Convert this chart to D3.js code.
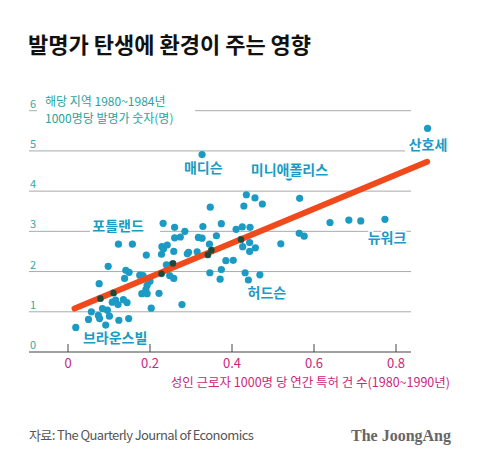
<!DOCTYPE html>
<html><head><meta charset="utf-8">
<script src="https://cdn.jsdelivr.net/npm/d3@7"></script>
<style>body{margin:0;background:#fff}svg{display:block;font-family:"Noto Sans CJK KR","Noto Sans",sans-serif}</style>
</head><body><svg id="c"></svg>
<script>
const xTicks = [0, 0.2, 0.4, 0.6, 0.8];
const yTicks = [0, 1, 2, 3, 4, 5, 6];
const px = [0.877,0.327,0.539,0.435,0.456,0.474,0.565,0.429,0.347,0.639,0.685,0.714,0.773,0.232,0.26,0.329,0.374,0.285,0.41,0.425,0.444,0.564,0.576,0.318,0.327,0.362,0.26,0.274,0.422,0.123,0.157,0.229,0.242,0.233,0.258,0.191,0.228,0.291,0.294,0.315,0.345,0.35,0.341,0.443,0.426,0.457,0.443,0.519,0.385,0.403,0.098,0.24,0.25,0.256,0.141,0.149,0.138,0.175,0.183,0.228,0.248,0.258,0.346,0.374,0.371,0.432,0.468,0.44,0.076,0.2,0.193,0.19,0.18,0.193,0.222,0.111,0.079,0.108,0.122,0.135,0.144,0.116,0.278,0.203,0.084,0.096,0.057,0.074,0.077,0.05,0.101,0.092,0.124,0.148,0.019];
const py = [5.56,4.91,4.35,3.91,3.83,3.68,3.82,3.63,3.60,3.22,3.28,3.26,3.30,3.20,3.10,3.12,3.19,3.0,3.05,3.11,3.10,2.95,2.88,2.85,2.83,2.89,2.84,2.86,2.80,2.68,2.68,2.62,2.66,2.57,2.50,2.41,2.43,2.44,2.48,2.49,2.68,2.53,2.42,2.72,2.62,2.59,2.50,2.69,2.27,2.28,2.13,2.17,2.16,2.20,2.03,1.98,1.83,1.91,1.90,1.95,1.90,1.83,1.97,2.05,1.81,1.97,1.92,1.79,1.70,1.76,1.66,1.55,1.45,1.45,1.46,1.47,1.33,1.24,1.18,1.30,1.23,1.29,1.18,1.09,1.08,1.04,1.0,0.91,0.83,0.81,0.89,0.67,0.79,0.83,0.61];
const dark = [[0.079,1.33],[0.111,1.47],[0.228,1.95],[0.256,2.20],[0.341,2.42],[0.35,2.53],[0.422,2.80]];
const fitLine = [[0.016,1.08],[0.876,4.73]];
const cityNames = ["산호세","매디슨","미니애폴리스","포틀랜드","뉴워크","허드슨","브라운스빌"];
const cityX = [0.878,0.33,0.54,0.122,0.778,0.485,0.115];
const cityY = [5.02,4.45,4.4,3.0,2.7,1.34,0.22];

const W = 480, H = 462;
const svg = d3.select("#c").attr("width", W).attr("height", H);
const x = d3.scaleLinear().domain([0, 0.8]).range([68, 396]);
const y = d3.scaleLinear().domain([0, 6]).range([352, 110.7]);
const teal = "#1b9bc4";

svg.append("text").attr("x", 28).attr("y", 53).attr("font-size", 22).attr("font-weight", 700)
  .attr("fill", "#111").text("발명가 탄생에 환경이 주는 영향");

// grid
const g = svg.append("g");
yTicks.forEach(t => {
  if (t === 0) return;
  let x1 = 29, x2 = 411;
  if (t === 5) x2 = 405;
  if (t === 6) {
    g.append("line").attr("x1", 29).attr("x2", 37).attr("y1", y(t)).attr("y2", y(t)).attr("stroke", "#aaa");
    x1 = 195;
  }
  if (t === 3) { g.append("line").attr("x1", 29).attr("x2", 90).attr("y1", y(t)).attr("y2", y(t)).attr("stroke", "#aaa"); x1 = 160; }
  g.append("line").attr("x1", x1).attr("x2", x2).attr("y1", y(t)).attr("y2", y(t)).attr("stroke", "#aaa");
});
yTicks.forEach(t => {
  g.append("text").attr("x", 30).attr("y", y(t) - 3).attr("font-size", 11).attr("fill", "#3aa7a0").text(t);
});
g.append("line").attr("x1", 29).attr("x2", 411).attr("y1", y(0)).attr("y2", y(0)).attr("stroke", "#444").attr("stroke-width", 1.2);
xTicks.forEach(t => {
  g.append("line").attr("x1", x(t)).attr("x2", x(t)).attr("y1", y(0)).attr("y2", y(0) - 8).attr("stroke", "#444");
  g.append("text").attr("x", x(t)).attr("y", y(0) + 16).attr("text-anchor", "middle").attr("font-size", 13)
    .attr("fill", "#c8287a").text(t);
});
svg.append("text").attr("x", 45).attr("y", 106).attr("font-size", 12).attr("fill", "#2aa39a").text("해당 지역 1980~1984년");
svg.append("text").attr("x", 45).attr("y", 123).attr("font-size", 12).attr("fill", "#2aa39a").text("1000명당 발명가 숫자(명)");
svg.append("text").attr("x", 450).attr("y", 387).attr("text-anchor", "end").attr("font-size", 12.5).attr("fill", "#c8287a")
  .text("성인 근로자 1000명 당 연간 특허 건 수(1980~1990년)");

// points
svg.append("g").selectAll("circle").data(px.map((v, i) => [v, py[i]])).join("circle")
  .attr("cx", d => x(d[0])).attr("cy", d => y(d[1])).attr("r", 3.6).attr("fill", teal);
svg.append("line").attr("x1", x(fitLine[0][0])).attr("y1", y(fitLine[0][1]))
  .attr("x2", x(fitLine[1][0])).attr("y2", y(fitLine[1][1]))
  .attr("stroke", "#f04a1c").attr("stroke-width", 6).attr("stroke-linecap", "round");
svg.append("g").selectAll("circle").data(dark).join("circle")
  .attr("cx", d => x(d[0])).attr("cy", d => y(d[1])).attr("r", 3.2).attr("fill", "#1f4a3a");

svg.append("g").selectAll("text").data(cityNames).join("text")
  .attr("x", (d, i) => x(cityX[i])).attr("y", (d, i) => y(cityY[i])).attr("text-anchor", "middle")
  .attr("font-size", 14).attr("font-weight", 700).attr("fill", teal).attr("stroke", "#fff").attr("stroke-width", 3)
  .attr("paint-order", "stroke").text(d => d);

svg.append("text").attr("x", 29).attr("y", 440).attr("font-size", 13).attr("fill", "#555").attr("letter-spacing", -0.6)
  .text("자료: The Quarterly Journal of Economics");
svg.append("text").attr("x", 451).attr("y", 441).attr("text-anchor", "end").attr("font-size", 16).attr("font-weight", 700)
  .attr("font-family", "Liberation Serif, serif").attr("fill", "#666").text("The JoongAng");
</script></body></html>
